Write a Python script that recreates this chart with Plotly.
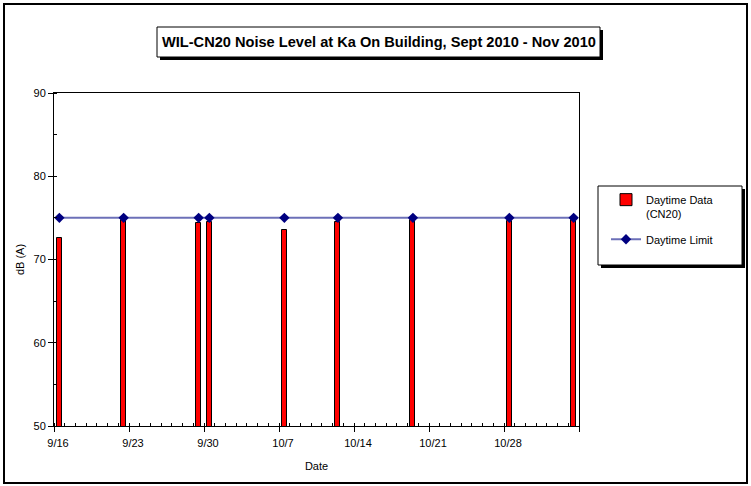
import plotly.graph_objects as go

# ---- data ----
dates = ['2010-09-16', '2010-09-22', '2010-09-29', '2010-09-30', '2010-10-07',
         '2010-10-12', '2010-10-19', '2010-10-28', '2010-11-03']
daytime_data = [72.6, 74.8, 74.4, 74.5, 73.6, 74.5, 74.8, 74.6, 74.8]
daytime_limit = [75, 75, 75, 75, 75, 75, 75, 75, 75]
tick_dates = ['2010-09-16', '2010-09-23', '2010-09-30', '2010-10-07',
              '2010-10-14', '2010-10-21', '2010-10-28', '2010-11-04']
tick_labels = ['9/16', '9/23', '9/30', '10/7', '10/14', '10/21', '10/28', '']
title_text = "WIL-CN20 Noise Level at Ka On Building, Sept 2010 - Nov 2010"

DAY = 86400000
W, H = 751, 486
L, R, T, B = 54, 579, 93, 426  # plot area in pixels
FONT = "Liberation Sans, Arial, sans-serif"


def px(x):
    return (x - L) / (R - L)


def py(y):
    return (B - y) / (B - T)


fig = go.Figure()
fig.add_trace(go.Bar(
    x=dates, y=daytime_data, name="Daytime Data<br>(CN20)", legendgroup="data",
    xperiod=DAY, xperiodalignment="middle", width=DAY * 0.47,
    marker=dict(color="#FF0000", line=dict(color="black", width=1)),
))
fig.add_trace(go.Scatter(
    x=dates, y=daytime_limit, name="Daytime Limit", mode="lines+markers",
    legendgroup="limit",
    xperiod=DAY, xperiodalignment="middle",
    line=dict(color="#6C70B8", width=2),
    marker=dict(symbol="diamond", size=8, color="#000080"),
))


def rect(x0, y0, x1, y1, fill, line_color=None, lw=0):
    fig.add_shape(type="rect", xref="paper", yref="paper",
                  x0=px(x0), x1=px(x1), y0=py(y1), y1=py(y0),
                  fillcolor=fill, line=dict(color=line_color or fill, width=lw),
                  layer="below")


# outer chart border
fig.add_shape(type="rect", xref="paper", yref="paper",
              x0=px(4), x1=px(747), y0=py(483), y1=py(4),
              line=dict(color="black", width=2), fillcolor="rgba(0,0,0,0)",
              layer="below")
# title box with shadow
rect(160, 30, 603, 60, "black")
rect(157, 27, 600, 57, "white", "black", 1)
# legend box with shadow
rect(601, 189, 745, 268, "black")
rect(598, 186, 742, 265, "white", "black", 1)

fig.add_annotation(xref="paper", yref="paper", x=px(378.5), y=py(42),
                   xanchor="center", yanchor="middle",
                   text="<b>" + title_text + "</b>", showarrow=False,
                   font=dict(family=FONT, size=14.6, color="black"))

fig.update_layout(
    width=W, height=H,
    margin=dict(l=L, r=W - R, t=T, b=H - B),
    paper_bgcolor="white", plot_bgcolor="white",
    font=dict(family=FONT, size=11, color="black"),
    showlegend=True,
    legend=dict(x=px(606), y=py(186), xanchor="left", yanchor="top",
                bgcolor="rgba(0,0,0,0)", borderwidth=0, valign="top",
                font=dict(family=FONT, size=11, color="black"),
                tracegroupgap=8),
    bargap=0,
)
fig.update_xaxes(
    type="date", range=["2010-09-16", "2010-11-04"],
    tickmode="array", tickvals=tick_dates, ticktext=tick_labels,
    ticks="outside", ticklen=5, tickcolor="black",
    showline=True, linecolor="black", linewidth=1, mirror=True,
    showgrid=False, zeroline=False,
    ticklabelshift=4, ticklabelstandoff=2,
    minor=dict(tick0="2010-09-16", dtick=DAY, ticks="inside", ticklen=3,
               tickcolor="black", showgrid=False),
    title=dict(text="Date", standoff=14, font=dict(size=11)),
)
fig.update_yaxes(
    range=[50, 90], dtick=10, ticks="outside", ticklen=5, tickcolor="black",
    showline=True, linecolor="black", linewidth=1, mirror=True,
    showgrid=False, zeroline=False,
    minor=dict(dtick=5, ticks="inside", ticklen=3, tickcolor="black", showgrid=False),
    title=dict(text="dB (A)", standoff=6, font=dict(size=11)),
)

fig.write_html("out.html", config={"displayModeBar": False},
               post_script="document.body.style.margin='0';")
